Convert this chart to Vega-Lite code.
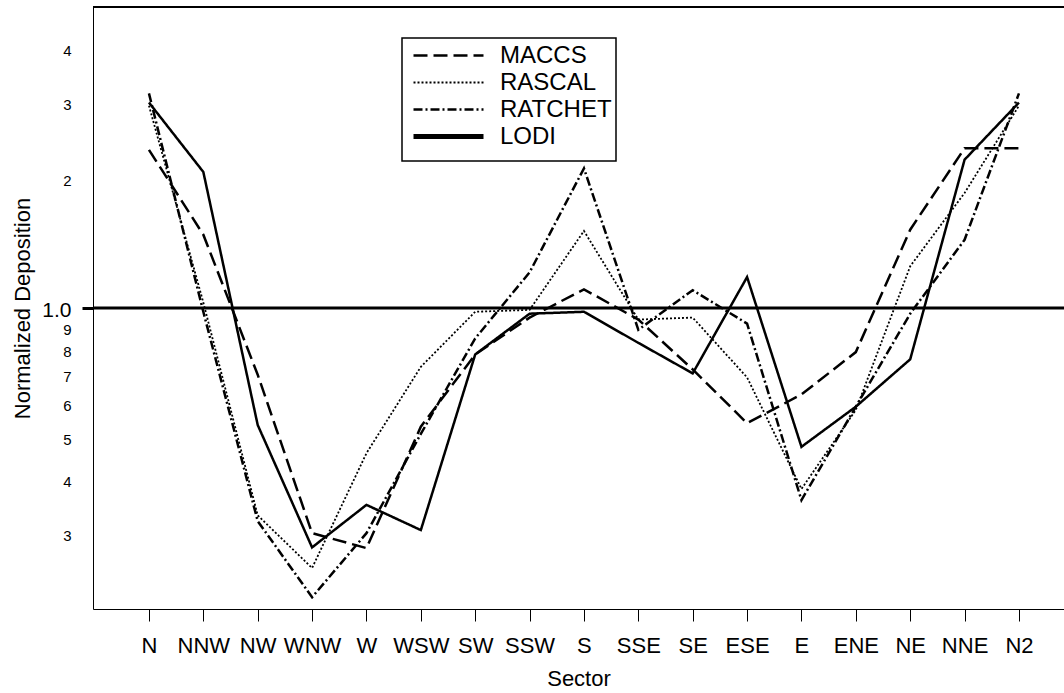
{
  "$schema": "https://vega.github.io/schema/vega-lite/v6.json",
  "width": 971,
  "height": 602,
  "autosize": {"type": "none"},
  "padding": {"left": 93, "top": 7, "right": 0, "bottom": 84},
  "background": "white",
  "config": {
    "view": {"stroke": null},
    "font": "Liberation Sans",
    "axis": {"grid": false, "domainColor": "black", "tickColor": "black", "labelColor": "black", "titleColor": "black", "titleFontWeight": "normal", "labelFont": "Liberation Sans", "titleFont": "Liberation Sans"}
  },
  "datasets": {
    "series": [
      {"model": "MACCS", "sector": "N", "value": 2.33},
      {"model": "MACCS", "sector": "NNW", "value": 1.48},
      {"model": "MACCS", "sector": "NW", "value": 0.7},
      {"model": "MACCS", "sector": "WNW", "value": 0.3},
      {"model": "MACCS", "sector": "W", "value": 0.277},
      {"model": "MACCS", "sector": "WSW", "value": 0.53},
      {"model": "MACCS", "sector": "SW", "value": 0.78},
      {"model": "MACCS", "sector": "SSW", "value": 0.95},
      {"model": "MACCS", "sector": "S", "value": 1.105},
      {"model": "MACCS", "sector": "SSE", "value": 0.94},
      {"model": "MACCS", "sector": "SE", "value": 0.72},
      {"model": "MACCS", "sector": "ESE", "value": 0.54},
      {"model": "MACCS", "sector": "E", "value": 0.63},
      {"model": "MACCS", "sector": "ENE", "value": 0.79},
      {"model": "MACCS", "sector": "NE", "value": 1.52},
      {"model": "MACCS", "sector": "NNE", "value": 2.35},
      {"model": "MACCS", "sector": "N2", "value": 2.35},
      {"model": "RASCAL", "sector": "N", "value": 2.95},
      {"model": "RASCAL", "sector": "NNW", "value": 1.03},
      {"model": "RASCAL", "sector": "NW", "value": 0.33},
      {"model": "RASCAL", "sector": "WNW", "value": 0.249},
      {"model": "RASCAL", "sector": "W", "value": 0.46},
      {"model": "RASCAL", "sector": "WSW", "value": 0.73},
      {"model": "RASCAL", "sector": "SW", "value": 0.98},
      {"model": "RASCAL", "sector": "SSW", "value": 0.99},
      {"model": "RASCAL", "sector": "S", "value": 1.51},
      {"model": "RASCAL", "sector": "SSE", "value": 0.94},
      {"model": "RASCAL", "sector": "SE", "value": 0.95},
      {"model": "RASCAL", "sector": "ESE", "value": 0.69},
      {"model": "RASCAL", "sector": "E", "value": 0.38},
      {"model": "RASCAL", "sector": "ENE", "value": 0.58},
      {"model": "RASCAL", "sector": "NE", "value": 1.25},
      {"model": "RASCAL", "sector": "NNE", "value": 1.85},
      {"model": "RASCAL", "sector": "N2", "value": 2.95},
      {"model": "RATCHET", "sector": "N", "value": 3.15},
      {"model": "RATCHET", "sector": "NNW", "value": 0.98},
      {"model": "RATCHET", "sector": "NW", "value": 0.32},
      {"model": "RATCHET", "sector": "WNW", "value": 0.213},
      {"model": "RATCHET", "sector": "W", "value": 0.3},
      {"model": "RATCHET", "sector": "WSW", "value": 0.51},
      {"model": "RATCHET", "sector": "SW", "value": 0.85},
      {"model": "RATCHET", "sector": "SSW", "value": 1.21},
      {"model": "RATCHET", "sector": "S", "value": 2.11},
      {"model": "RATCHET", "sector": "SSE", "value": 0.89},
      {"model": "RATCHET", "sector": "SE", "value": 1.1},
      {"model": "RATCHET", "sector": "ESE", "value": 0.92},
      {"model": "RATCHET", "sector": "E", "value": 0.358},
      {"model": "RATCHET", "sector": "ENE", "value": 0.59},
      {"model": "RATCHET", "sector": "NE", "value": 0.97},
      {"model": "RATCHET", "sector": "NNE", "value": 1.44},
      {"model": "RATCHET", "sector": "N2", "value": 3.15},
      {"model": "LODI", "sector": "N", "value": 3.0},
      {"model": "LODI", "sector": "NNW", "value": 2.07},
      {"model": "LODI", "sector": "NW", "value": 0.535},
      {"model": "LODI", "sector": "WNW", "value": 0.278},
      {"model": "LODI", "sector": "W", "value": 0.349},
      {"model": "LODI", "sector": "WSW", "value": 0.305},
      {"model": "LODI", "sector": "SW", "value": 0.78},
      {"model": "LODI", "sector": "SSW", "value": 0.97},
      {"model": "LODI", "sector": "S", "value": 0.98},
      {"model": "LODI", "sector": "SSE", "value": 0.83},
      {"model": "LODI", "sector": "SE", "value": 0.705},
      {"model": "LODI", "sector": "ESE", "value": 1.18},
      {"model": "LODI", "sector": "E", "value": 0.476},
      {"model": "LODI", "sector": "ENE", "value": 0.59},
      {"model": "LODI", "sector": "NE", "value": 0.76},
      {"model": "LODI", "sector": "NNE", "value": 2.21},
      {"model": "LODI", "sector": "N2", "value": 3.0}
    ]
  },
  "layer": [
    {
      "data": {"name": "series"},
      "mark": {"type": "line", "color": "black", "strokeCap": "butt"},
      "encoding": {
        "x": {
          "field": "sector",
          "type": "nominal",
          "scale": {"type": "point", "domain": ["N", "NNW", "NW", "WNW", "W", "WSW", "SW", "SSW", "S", "SSE", "SE", "ESE", "E", "ENE", "NE", "NNE", "N2"], "padding": 0.9287, "align": 0.554},
          "axis": {"title": "Sector", "titleFontSize": 22, "labelFontSize": 22, "labelAngle": 0, "labelOverlap": false, "labelFlush": false, "labelBound": false, "tickSize": 12, "tickWidth": 1, "domainWidth": 1, "labelPadding": 14, "titlePadding": 12, "labelLimit": 0}
        },
        "y": {
          "field": "value",
          "type": "quantitative",
          "scale": {"type": "log", "domain": [0.2, 5], "nice": false},
          "axis": {
            "title": "Normalized Deposition",
            "titleFontSize": 22,
            "values": [0.3, 0.4, 0.5, 0.6, 0.7, 0.8, 0.9, 1, 2, 3, 4],
            "labelExpr": "datum.value < 0.95 ? format(datum.value * 10, '.0f') : (datum.value == 1 ? '1.0' : format(datum.value, '.0f'))",
            "labelFontSize": {"condition": {"test": "datum.value == 1", "value": 21}, "value": 15},
            "tickSize": 11,
            "tickWidth": 3,
            "tickOpacity": {"condition": {"test": "datum.value == 1", "value": 1}, "value": 0},
            "labelPadding": 11,
            "labelBaseline": "middle",
            "labelOffset": 2,
            "domainWidth": 1,
            "titlePadding": 7
          }
        },
        "strokeDash": {
          "field": "model",
          "type": "nominal",
          "scale": {"domain": ["MACCS", "RASCAL", "RATCHET", "LODI"], "range": [[14, 6], [2, 2], [9, 3, 2, 3], [1, 0]]},
          "legend": {
            "title": " ",
            "titleOrient": "bottom",
            "titleFontSize": 3,
            "titlePadding": 4,
            "orient": "none",
            "legendX": 309,
            "legendY": 31,
            "direction": "vertical",
            "symbolType": "stroke",
            "symbolSize": 4900,
            "symbolStrokeColor": "black",
            "symbolStrokeWidth": 2.5,
            "symbolOffset": 6,
            "labelFontSize": 24,
            "labelFont": "Liberation Sans",
            "labelColor": "black",
            "labelOffset": 15,
            "labelLimit": 0,
            "labelExpr": "datum.label + '\u00a0\u00a0\u00a0'",
            "padding": 4,
            "clipHeight": 27,
            "rowPadding": 0,
            "strokeColor": "black",
            "fillColor": "white",
            "encode": {
              "symbols": {"update": {"strokeWidth": {"signal": "(datum.label === 'LODI' ? 5 : (datum.label === 'RASCAL' ? 1.8 : 2.5))"}}},
              "legend": {"update": {"strokeWidth": {"value": 1.5}}}
            }
          }
        },
        "strokeWidth": {
          "condition": {"test": "datum.model === 'RASCAL'", "value": 1.8},
          "value": 2.5
        },
        "order": {"value": null}
      }
    },
    {
      "data": {"values": [{}]},
      "mark": {"type": "rule", "color": "black", "strokeWidth": 3},
      "encoding": {"y": {"datum": 1}}
    },
    {
      "data": {"values": [{}]},
      "mark": {"type": "rule", "color": "black", "strokeWidth": 2},
      "encoding": {"y": {"datum": 5}}
    }
  ]
}
